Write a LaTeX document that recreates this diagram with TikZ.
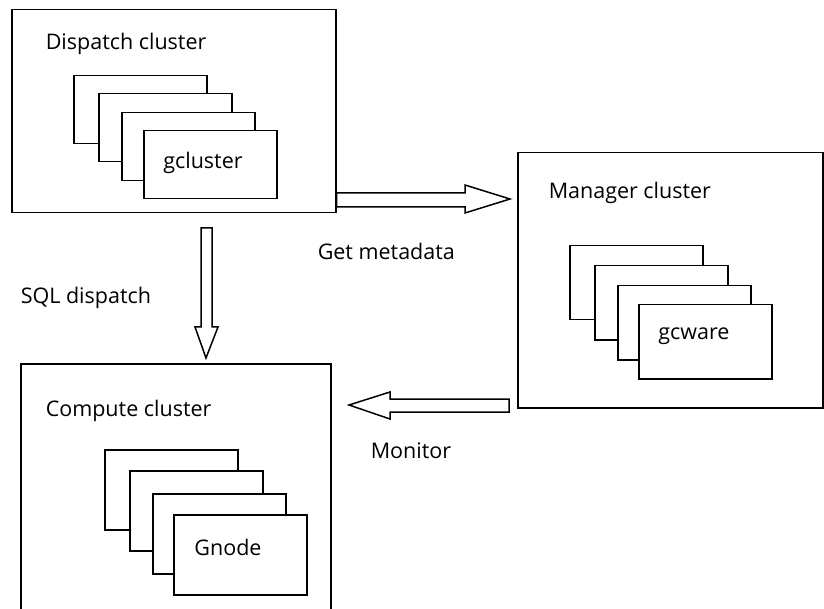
\documentclass[tikz,border=0pt]{standalone}
\usepackage{fontspec}
\setmainfont{Open Sans}
\usetikzlibrary{calc}
\begin{document}
\begin{tikzpicture}[x=1pt,y=-1pt,line width=1.5pt,
  cluster/.style={draw,rectangle,inner sep=0pt,anchor=north west},
  card/.style={draw,fill=white,rectangle,inner sep=0pt,anchor=north west,minimum width=133pt},
  lbl/.style={font=\fontsize{21.5}{25}\selectfont,inner sep=0pt},
  blockarrow/.style={draw,fill=white,line width=1.5pt,line join=miter}]
\useasboundingbox (0,0) rectangle (824,609);
% Dispatch cluster
\node[cluster,minimum width=324pt,minimum height=203pt] (disp) at (11,9) {};
\node[lbl,anchor=west] (dispt) at (45,44) {Dispatch cluster};
\node[card,minimum height=68pt] (d1) at (73,75) {};
\node[card,minimum height=68pt] (d2) at (98,93) {};
\node[card,minimum height=68pt] (d3) at (121,112) {};
\node[card,minimum height=68pt] (d4) at (143,130) {};
\node[lbl] (dtext) at (203,163) {gcluster};
% Manager cluster
\node[cluster,minimum width=305pt,minimum height=255pt] (mgr) at (517,152) {};
\node[lbl,anchor=west] (mgrt) at (548,193) {Manager cluster};
\node[card,minimum height=74pt] (m1) at (569,245) {};
\node[card,minimum height=74pt] (m2) at (594,265) {};
\node[card,minimum height=74pt] (m3) at (617,285) {};
\node[card,minimum height=74pt] (m4) at (638,304) {};
\node[lbl] (mtext) at (694,336) {gcware};
% Compute cluster
\node[cluster,minimum width=310pt,minimum height=252pt] (comp) at (20,363) {};
\node[lbl,anchor=west] (compt) at (45,411) {Compute cluster};
\node[card,minimum height=80pt] (c1) at (104,449) {};
\node[card,minimum height=80pt] (c2) at (129,470) {};
\node[card,minimum height=80pt] (c3) at (152,493) {};
\node[card,minimum height=80pt] (c4) at (173,514) {};
\node[lbl] (ctext) at (228,547) {Gnode};
% Get metadata arrow
\coordinate (a1s) at (disp.east |- 0,200);
\coordinate (a1e) at (510,199);
\draw[blockarrow] ($(a1s)+(0,-7)$) -- (465,193) -- (465,185) -- (a1e) -- (465,213) -- (465,207) -- ($(a1s)+(0,7)$) -- cycle;
\node[lbl,anchor=west] (getm) at (317,251) {Get metadata};
% SQL dispatch arrow
\coordinate (a2e) at (206,358);
\draw[blockarrow] (201,228) -- (212,228) -- (212,327) -- (218,327) -- (a2e) -- (195,327) -- (201,327) -- cycle;
\node[lbl,anchor=west] (sqld) at (20,298) {SQL dispatch};
% Monitor arrow
\coordinate (a3e) at (349,405);
\draw[blockarrow] (509,399) -- (390,399) -- (390,392) -- (a3e) -- (390,419) -- (390,412) -- (509,412) -- cycle;
\node[lbl,anchor=west] (mon) at (370,451) {Monitor};
\end{tikzpicture}
\end{document}
